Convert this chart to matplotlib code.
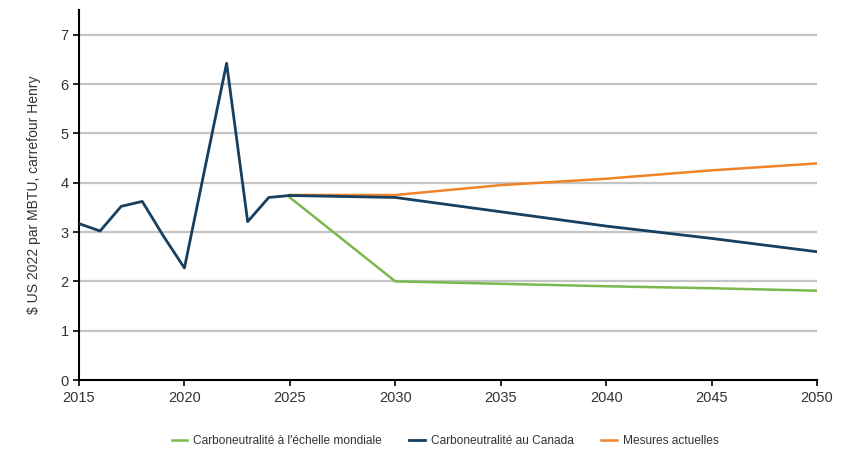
import matplotlib
matplotlib.use("Agg")
import matplotlib.pyplot as plt

plt.rcParams['font.family'] = ['Liberation Sans', 'DejaVu Sans']

hist_years = [2015, 2016, 2017, 2018, 2019, 2020, 2021, 2022, 2023, 2024, 2025]
hist_vals = [3.17, 3.02, 3.52, 3.62, 2.92, 2.27, 4.35, 6.42, 3.21, 3.70, 3.74]

green_years = [2025, 2030, 2035, 2040, 2045, 2050]
green_vals = [3.70, 2.00, 1.95, 1.90, 1.86, 1.81]

blue_years = [2025, 2030, 2035, 2040, 2045, 2050]
blue_vals = [3.74, 3.70, 3.41, 3.12, 2.87, 2.60]

orange_years = [2025, 2030, 2035, 2040, 2045, 2050]
orange_vals = [3.75, 3.75, 3.95, 4.08, 4.25, 4.39]

labels = ["Carboneutralité à l'échelle mondiale", "Carboneutralité au Canada", "Mesures actuelles"]
colors = ["#7ab84e", "#173f5f", "#f0832a"]

fig = plt.figure(figsize=(8.52, 4.53), dpi=100)
ax = fig.add_axes([79/852, 1 - 380/453, (817-79)/852, (380-10)/453])

ax.plot(orange_years, orange_vals, color=colors[2], lw=1.8, label=labels[2], zorder=3)
ax.plot(green_years, green_vals, color=colors[0], lw=1.8, label=labels[0], zorder=3)
ax.plot(blue_years, blue_vals, color=colors[1], lw=2.0, label=labels[1], zorder=4)
ax.plot(hist_years, hist_vals, color=colors[1], lw=2.0, zorder=4)

ax.set_xlim(2015, 2050)
ax.set_ylim(0, 7.5)
ax.set_xticks(range(2015, 2051, 5))
ax.set_yticks(range(0, 8))
for y in range(1, 8):
    ax.axhline(y, color="#c4c4c4", lw=1.6, zorder=1)
ax.spines['top'].set_visible(False)
ax.spines['right'].set_visible(False)
ax.spines['left'].set_linewidth(1.5)
ax.spines['bottom'].set_linewidth(1.5)
ax.tick_params(axis='both', colors='#000000', labelcolor='#333333', labelsize=10.5, length=4, width=1.2)
ax.tick_params(axis='x', pad=4)
ax.set_ylabel("$ US 2022 par MBTU, carrefour Henry", fontsize=10, color='#333333', labelpad=14)

handles, labs = ax.get_legend_handles_labels()
order = [labels.index(l) for l in labs]
h_sorted = [h for _, h in sorted(zip(order, handles), key=lambda t: t[0])]
l_sorted = [l for _, l in sorted(zip(order, labs), key=lambda t: t[0])]
fig.legend(h_sorted, l_sorted, loc='center', bbox_to_anchor=(445/852, 1 - 441/453), ncol=3,
           frameon=False, fontsize=8.6, handlelength=1.3, columnspacing=2.3, handletextpad=0.5,
           labelcolor='#333333')

fig.savefig("out.png", dpi=100)
